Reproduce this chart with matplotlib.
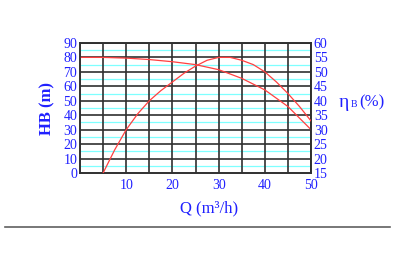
import matplotlib
matplotlib.use("Agg")
import matplotlib.pyplot as plt
from matplotlib.lines import Line2D

q_head = [0, 5, 10, 15, 20, 25, 30, 35, 40, 45, 50]
head = [80, 80, 79.5, 78.5, 77, 75, 71.5, 65.5, 57.5, 46, 30]

q_eff = [5, 7.5, 10, 12.5, 15, 17.5, 20, 22.5, 25, 27.5, 30, 32.5, 35, 37.5, 40, 42.5, 45, 47.5, 50]
eff = [15, 23, 30, 35.5, 40, 43.5, 46.5, 49.5, 52, 54, 55, 55, 54, 52.5, 50, 46.5, 42.5, 38, 33]

x_ticks = [10, 20, 30, 40, 50]
left_ticks = list(range(0, 91, 10))
right_ticks = list(range(15, 61, 5))

blue = "#2020ff"
serif = "Liberation Serif"

fig = plt.figure(figsize=(3.95, 2.65), dpi=100)
ax = fig.add_axes([0.2025, 0.347, 0.585, 0.491])
ax.set_xlim(0, 50)
ax.set_ylim(0, 90)

for y in range(5, 90, 10):
    ax.axhline(y, color="#7fffff", lw=0.9, zorder=1)
for y in range(10, 91, 10):
    ax.axhline(y, color="#303030", lw=1.2, zorder=2)
for x in range(5, 51, 5):
    ax.axvline(x, color="#303030", lw=1.2, zorder=2)

ax.plot(q_head, head, color="#ff4040", lw=0.9, zorder=3)

ax2 = ax.twinx()
ax2.set_ylim(15, 60)
ax2.plot(q_eff, eff, color="#ff4040", lw=0.9, zorder=3)

for a in (ax, ax2):
    for s in a.spines.values():
        s.set_color("#303030")
        s.set_linewidth(1.2)
    a.tick_params(length=0, pad=2, labelcolor=blue)
ax.tick_params(axis="x", pad=4)

ax.set_xticks(x_ticks)
ax.set_yticks(left_ticks)
ax2.set_yticks(right_ticks)
for lab in ax.get_xticklabels() + ax.get_yticklabels() + ax2.get_yticklabels():
    lab.set_fontfamily(serif)
    lab.set_fontsize(10)

fig.text(0.12, 0.59, "HB (m)", rotation=90, color=blue, family=serif,
         fontsize=12, fontweight="bold", ha="center", va="center")
fig.text(0.53, 0.215, "Q (m³/h)", color=blue, family=serif, fontsize=12,
         ha="center", va="center")
fig.text(0.857, 0.615, "η", color=blue, family=serif, fontsize=14, ha="left", va="center")
fig.text(0.887, 0.605, "B", color=blue, family=serif, fontsize=7, ha="left", va="center")
fig.text(0.91, 0.615, "(%)", color=blue, family=serif, fontsize=12, ha="left", va="center")

fig.add_artist(Line2D([0.012, 0.988], [0.145, 0.145], color="#606060", lw=1.2,
                      transform=fig.transFigure))

fig.savefig("out.png", dpi=100)
